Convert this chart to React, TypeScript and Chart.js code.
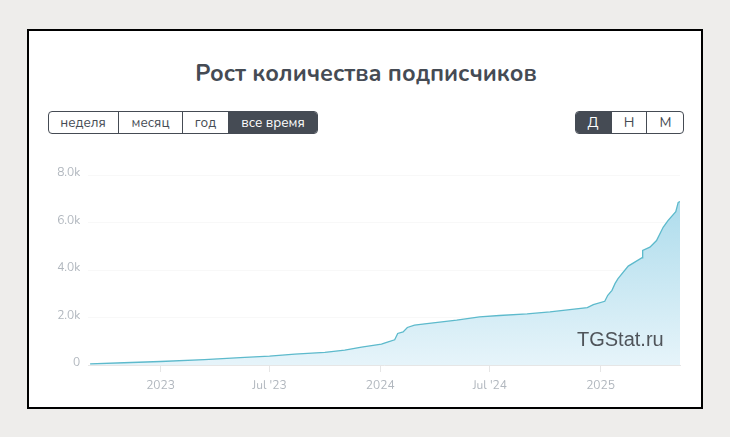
import React, { useEffect, useRef } from "react";
import { Chart, registerables } from "chart.js";

Chart.register(...registerables);

const titleText = "Рост количества подписчиков";
const rangeButtons = ["неделя", "месяц", "год", "все время"];
const stepButtons = ["Д", "Н", "М"];
const watermark = "TGStat.ru";

const dates = [
  "2022-09-06", "2022-11-01", "2023-01-01", "2023-03-15", "2023-05-21", "2023-07-01", "2023-08-12",
  "2023-10-01", "2023-11-03", "2023-12-01", "2024-01-03", "2024-01-13", "2024-01-25", "2024-01-30",
  "2024-02-08", "2024-02-15", "2024-02-27", "2024-03-15", "2024-05-07", "2024-06-14", "2024-07-17",
  "2024-09-01", "2024-10-09", "2024-12-10", "2024-12-20", "2025-01-08", "2025-01-13", "2025-01-20",
  "2025-01-25", "2025-01-30", "2025-02-16", "2025-03-11", "2025-03-12", "2025-03-24", "2025-04-04",
  "2025-04-15", "2025-04-23", "2025-05-06", "2025-05-10", "2025-05-13",
];
const subscribers = [
  50, 95, 147, 230, 323, 377, 461,
  532, 629, 755, 880, 964, 1061, 1329,
  1396, 1581, 1677, 1732, 1887, 2025, 2084,
  2151, 2235, 2419, 2540, 2684, 2935, 3145,
  3426, 3635, 4164, 4516, 4822, 4960, 5241,
  5799, 6080, 6457, 6847, 6880,
];
const tickDates = ["2023-01-01", "2023-07-01", "2024-01-01", "2024-07-01", "2025-01-01"];
const tickLabels = ["2023", "Jul '23", "2024", "Jul '24", "2025"];
const axisStart = "2022-09-03";
const axisEnd = "2025-05-13";

const ts = (d: string) => Date.parse(d + "T00:00:00Z");
const FONT = "Nunito, 'Noto Sans', 'Open Sans', sans-serif";
const DARK = "#454b54";
const MUTED = "#b1b7be";

function ButtonGroup({ items, edges, active, top, size }: { items: string[]; edges: number[]; active: number; top: number; size: number }) {
  const left = edges[0];
  const width = edges[edges.length - 1] - left;
  return (
    <div style={{ position: "absolute", left, top, width, height: 23, boxSizing: "border-box", border: `1px solid ${DARK}`, borderRadius: 4, overflow: "hidden", background: "#fff" }}>
      {items.map((t, i) => (
        <div key={t} style={{
          position: "absolute", left: edges[i] - left - 1, top: 0, width: edges[i + 1] - edges[i], height: 21,
          lineHeight: "22px", textAlign: "center", fontFamily: FONT, fontSize: size,
          color: i === active ? "#fff" : DARK, background: i === active ? DARK : "transparent",
          boxSizing: "border-box", borderLeft: i > 0 && i !== active ? `1px solid ${DARK}` : "none",
        }}>{t}</div>
      ))}
    </div>
  );
}

export default function App() {
  const ref = useRef<HTMLCanvasElement>(null);
  useEffect(() => {
    const chart = new Chart(ref.current!, {
      type: "line",
      data: {
        datasets: [{
          data: dates.map((d, i) => ({ x: ts(d), y: subscribers[i] })),
          borderColor: "#5dbacc",
          borderWidth: 1.3,
          pointRadius: 0,
          tension: 0,
          fill: "origin",
          backgroundColor: (ctx: any) => {
            const { chart: c } = ctx;
            if (!c.chartArea) return "#cfeaf4";
            const y = c.scales.y;
            const g = c.ctx.createLinearGradient(0, y.getPixelForValue(Math.max(...subscribers)), 0, y.getPixelForValue(0));
            g.addColorStop(0, "#aedcec");
            g.addColorStop(1, "#e6f4fa");
            return g;
          },
        }],
      },
      options: {
        animation: false,
        responsive: false,
        events: [],
        layout: { padding: { top: 25, right: 21, left: 0, bottom: 0 } },
        plugins: { legend: { display: false }, tooltip: { enabled: false }, title: { display: false } },
        scales: {
          x: {
            type: "linear",
            min: ts(axisStart),
            max: ts(axisEnd),
            afterBuildTicks: (s: any) => { s.ticks = tickDates.map((d) => ({ value: ts(d) })); },
            afterFit: (s: any) => { s.height = 41; },
            grid: { drawOnChartArea: false, drawTicks: true, tickLength: 7, color: "#e6e6e6" },
            border: { color: "#e6e6e6", width: 1 },
            ticks: {
              maxRotation: 0,
              autoSkip: false,
              padding: 7,
              color: MUTED,
              font: { family: FONT, size: 12 },
              callback: (v: any) => tickLabels[tickDates.findIndex((d) => ts(d) === v)] ?? "",
            },
          },
          y: {
            min: 0,
            max: 8000,
            afterFit: (s: any) => { s.width = 59.3; },
            grid: { color: "#f8f8f8", drawTicks: false },
            border: { display: false },
            ticks: {
              stepSize: 2000,
              padding: 8,
              color: MUTED,
              font: { family: FONT, size: 12, lineHeight: 0.25 },
              callback: (v: any) => [v === 0 ? "0" : (v / 1000).toFixed(1) + "k", ""],
            },
          },
        },
      },
    } as any);
    return () => chart.destroy();
  }, []);

  return (
    <div style={{ position: "fixed", left: 0, top: 0, width: 730, height: 437, background: "#eeedeb", overflow: "hidden" }}>
      <div style={{ position: "absolute", left: 27, top: 29, width: 676, height: 380, boxSizing: "border-box", border: "2px solid #000", background: "#fff" }} />
      <div style={{ position: "absolute", left: 28, width: 676, top: 57.5, textAlign: "center", fontFamily: FONT, fontWeight: 700, fontSize: 23.25, lineHeight: "30px", color: DARK, whiteSpace: "nowrap" }}>{titleText}</div>
      <ButtonGroup items={rangeButtons} edges={[48, 118, 182, 228, 318]} active={3} top={111} size={13.5} />
      <ButtonGroup items={stepButtons} edges={[575, 611, 646, 684]} active={0} top={111} size={14} />
      <canvas ref={ref} width={672} height={256} style={{ position: "absolute", left: 29, top: 150, width: 672, height: 256 }} />
      <div style={{ position: "absolute", left: 577, top: 326, fontFamily: "'Liberation Sans', sans-serif", fontSize: 20, lineHeight: "26px", color: "#4f545a", whiteSpace: "nowrap" }}>{watermark}</div>
    </div>
  );
}
